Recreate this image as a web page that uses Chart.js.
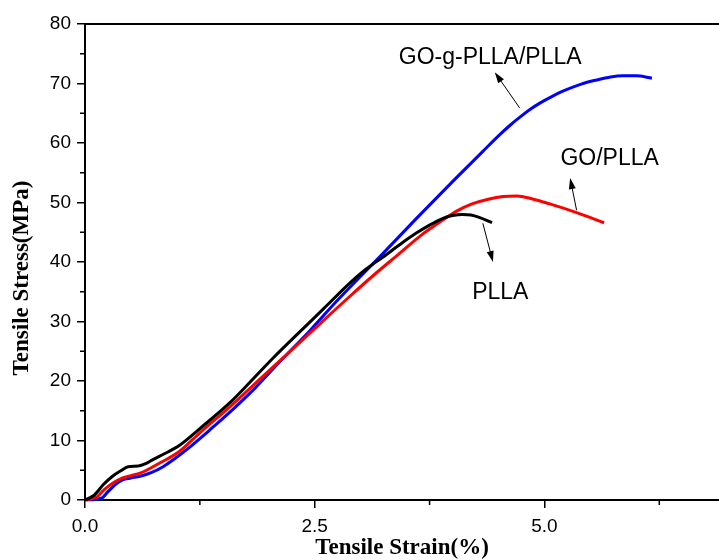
<!DOCTYPE html>
<html>
<head>
<meta charset="utf-8">
<script src="https://cdn.jsdelivr.net/npm/chart.js@4.4.1/dist/chart.umd.min.js"></script>
<style>
  html, body { margin: 0; padding: 0; background: #fff; }
  #grafico { display: block; }
</style>
</head>
<body>
<canvas id="grafico" width="719" height="560"></canvas>
<script>
// Curves: strain (%) and stress (MPa)
var pllaStrain = [0, 0.1, 0.2, 0.3, 0.4, 0.47, 0.58, 0.66, 0.73, 0.88, 1.03, 1.25, 1.58, 1.79, 2.05, 2.34, 2.6, 2.85, 3.05, 3.24, 3.45, 3.61, 3.75, 3.89, 4.0, 4.11, 4.2, 4.29, 4.43];
var pllaStress = [0, 0.8, 2.6, 4.0, 5.0, 5.6, 5.7, 6.1, 6.7, 7.9, 9.2, 12.0, 16.4, 19.7, 23.9, 28.3, 32.2, 36.0, 38.7, 40.8, 43.2, 44.9, 46.2, 47.3, 47.8, 48.0, 47.9, 47.5, 46.6];

var goStrain = [0, 0.13, 0.2, 0.3, 0.41, 0.5, 0.6, 0.8, 1.03, 1.25, 1.58, 1.93, 2.2, 2.5, 2.88, 3.15, 3.42, 3.65, 3.89, 4.05, 4.22, 4.4, 4.55, 4.7, 4.87, 5.05, 5.35, 5.65];
var goStress = [0, 0.5, 1.6, 2.8, 3.7, 4.1, 4.5, 6.1, 8.2, 11.3, 15.7, 20.7, 24.5, 28.8, 34.2, 37.9, 41.4, 44.4, 47.0, 48.6, 49.8, 50.6, 51.0, 51.1, 50.6, 49.8, 48.3, 46.6];

var gogStrain = [0, 0.18, 0.25, 0.33, 0.41, 0.5, 0.6, 0.72, 0.85, 1.1, 1.36, 1.58, 1.85, 2.13, 2.45, 2.75, 3.0, 3.21, 3.6, 4.0, 4.33, 4.5, 4.62, 4.73, 4.85, 4.95, 5.08, 5.2, 5.4, 5.57, 5.72, 5.85, 6.0, 6.17];
var gogStress = [0, 0.3, 1.4, 2.6, 3.4, 3.7, 4.0, 4.6, 5.6, 8.4, 11.8, 14.8, 18.8, 23.4, 28.5, 33.6, 37.6, 40.9, 47.2, 53.5, 58.6, 61.2, 62.9, 64.3, 65.7, 66.7, 67.8, 68.7, 69.9, 70.6, 71.1, 71.3, 71.3, 70.9];

var seriesNames = ['PLLA', 'GO/PLLA', 'GO-g-PLLA/PLLA'];

// Tick values
var xTicks = [0, 2.5, 5.0];
var xMinorTicks = [1.25, 3.75, 6.25];
var yTicks = [0, 10, 20, 30, 40, 50, 60, 70, 80];
var yMinorTicks = [5, 15, 25, 35, 45, 55, 65, 75];

// Curve labels with their arrows (in axis units)
var notas = [
  { text: 'GO-g-PLLA/PLLA', x: 4.41, y: 74.4, from: [4.73, 65.9], to: [4.46, 71.9] },
  { text: 'GO/PLLA', x: 5.71, y: 57.3, from: [5.35, 48.7], to: [5.28, 54.1] },
  { text: 'PLLA', x: 4.52, y: 34.9, from: [4.33, 46.5], to: [4.44, 40.0] }
];

function puntos(xs, ys) {
  return xs.map(function (v, i) { return { x: v, y: ys[i] }; });
}

function serie(nombre, xs, ys, color) {
  return {
    label: nombre,
    data: puntos(xs, ys),
    borderColor: color,
    borderWidth: 3,
    pointRadius: 0,
    fill: false,
    clip: false,
    cubicInterpolationMode: 'monotone'
  };
}

// Frame, minor ticks, y title and the curve labels
var decoracion = {
  id: 'decoracion',
  afterDraw: function (chart) {
    var ctx = chart.ctx;
    var area = chart.chartArea;
    var xs = chart.scales.x;
    var ys = chart.scales.y;
    ctx.save();

    ctx.strokeStyle = '#000';
    ctx.lineWidth = 2;
    ctx.beginPath();
    ctx.moveTo(area.left - 1, area.top);
    ctx.lineTo(area.right, area.top);
    ctx.stroke();

    ctx.lineWidth = 1.5;
    ctx.beginPath();
    xMinorTicks.forEach(function (v) {
      var px = xs.getPixelForValue(v);
      ctx.moveTo(px, area.bottom);
      ctx.lineTo(px, area.bottom + 5);
    });
    yMinorTicks.forEach(function (v) {
      var py = ys.getPixelForValue(v);
      ctx.moveTo(area.left, py);
      ctx.lineTo(area.left - 5, py);
    });
    ctx.stroke();

    // y axis title
    ctx.save();
    ctx.translate(22, 278);
    ctx.rotate(-Math.PI / 2);
    ctx.font = 'bold 23px "Liberation Serif", "Times New Roman", serif';
    ctx.fillStyle = '#000';
    ctx.textAlign = 'center';
    ctx.textBaseline = 'middle';
    ctx.fillText('Tensile Stress(MPa)', 0, 0);
    ctx.restore();

    // labels and arrows
    ctx.font = '23px "Liberation Sans", Arial, sans-serif';
    ctx.fillStyle = '#000';
    ctx.textAlign = 'center';
    ctx.textBaseline = 'middle';
    notas.forEach(function (n) {
      ctx.fillText(n.text, xs.getPixelForValue(n.x), ys.getPixelForValue(n.y));
      var x1 = xs.getPixelForValue(n.from[0]), y1 = ys.getPixelForValue(n.from[1]);
      var x2 = xs.getPixelForValue(n.to[0]), y2 = ys.getPixelForValue(n.to[1]);
      var ang = Math.atan2(y2 - y1, x2 - x1);
      ctx.lineWidth = 1;
      ctx.beginPath();
      ctx.moveTo(x1, y1);
      ctx.lineTo(x2 - 8 * Math.cos(ang), y2 - 8 * Math.sin(ang));
      ctx.stroke();
      ctx.beginPath();
      ctx.moveTo(x2, y2);
      ctx.lineTo(x2 - 11 * Math.cos(ang) + 3.5 * Math.sin(ang), y2 - 11 * Math.sin(ang) - 3.5 * Math.cos(ang));
      ctx.lineTo(x2 - 11 * Math.cos(ang) - 3.5 * Math.sin(ang), y2 - 11 * Math.sin(ang) + 3.5 * Math.cos(ang));
      ctx.closePath();
      ctx.fill();
    });

    ctx.restore();
  }
};

var fuenteTicks = { family: '"Liberation Sans", Arial, sans-serif', size: 19 };

new Chart(document.getElementById('grafico').getContext('2d'), {
  type: 'line',
  data: {
    datasets: [
      serie(seriesNames[0], pllaStrain, pllaStress, '#000000'),
      serie(seriesNames[1], goStrain, goStress, '#ff0000'),
      serie(seriesNames[2], gogStrain, gogStress, '#0000ff')
    ]
  },
  options: {
    responsive: false,
    animation: false,
    layout: { padding: { top: 24, right: 0, left: 0, bottom: 0 } },
    plugins: { legend: { display: false }, tooltip: { enabled: false } },
    scales: {
      x: {
        type: 'linear',
        min: 0,
        max: 6.9,
        afterBuildTicks: function (scale) {
          scale.ticks = xTicks.map(function (v) { return { value: v }; });
        },
        afterFit: function (scale) { scale.height = 60; },
        ticks: {
          autoSkip: false,
          maxRotation: 0,
          color: '#000',
          font: fuenteTicks,
          padding: 7,
          callback: function (v) { return Number(v).toFixed(1); }
        },
        grid: { drawOnChartArea: false, drawTicks: true, tickLength: 8, color: '#000', lineWidth: 1.5 },
        border: { display: true, color: '#000', width: 2 },
        title: {
          display: true,
          text: 'Tensile Strain(%)',
          color: '#000',
          font: { family: '"Liberation Serif", "Times New Roman", serif', size: 23, weight: 'bold', lineHeight: 1 },
          padding: { top: 0, bottom: 0 }
        }
      },
      y: {
        type: 'linear',
        min: 0,
        max: 80,
        afterBuildTicks: function (scale) {
          scale.ticks = yTicks.map(function (v) { return { value: v }; });
        },
        afterFit: function (scale) { scale.width = 85; },
        ticks: {
          autoSkip: false,
          color: '#000',
          font: fuenteTicks,
          padding: 6,
          callback: function (v) { return String(v); }
        },
        grid: { drawOnChartArea: false, drawTicks: true, tickLength: 8, color: '#000', lineWidth: 1.5 },
        border: { display: true, color: '#000', width: 2 }
      }
    }
  },
  plugins: [decoracion]
});
</script>
</body>
</html>
